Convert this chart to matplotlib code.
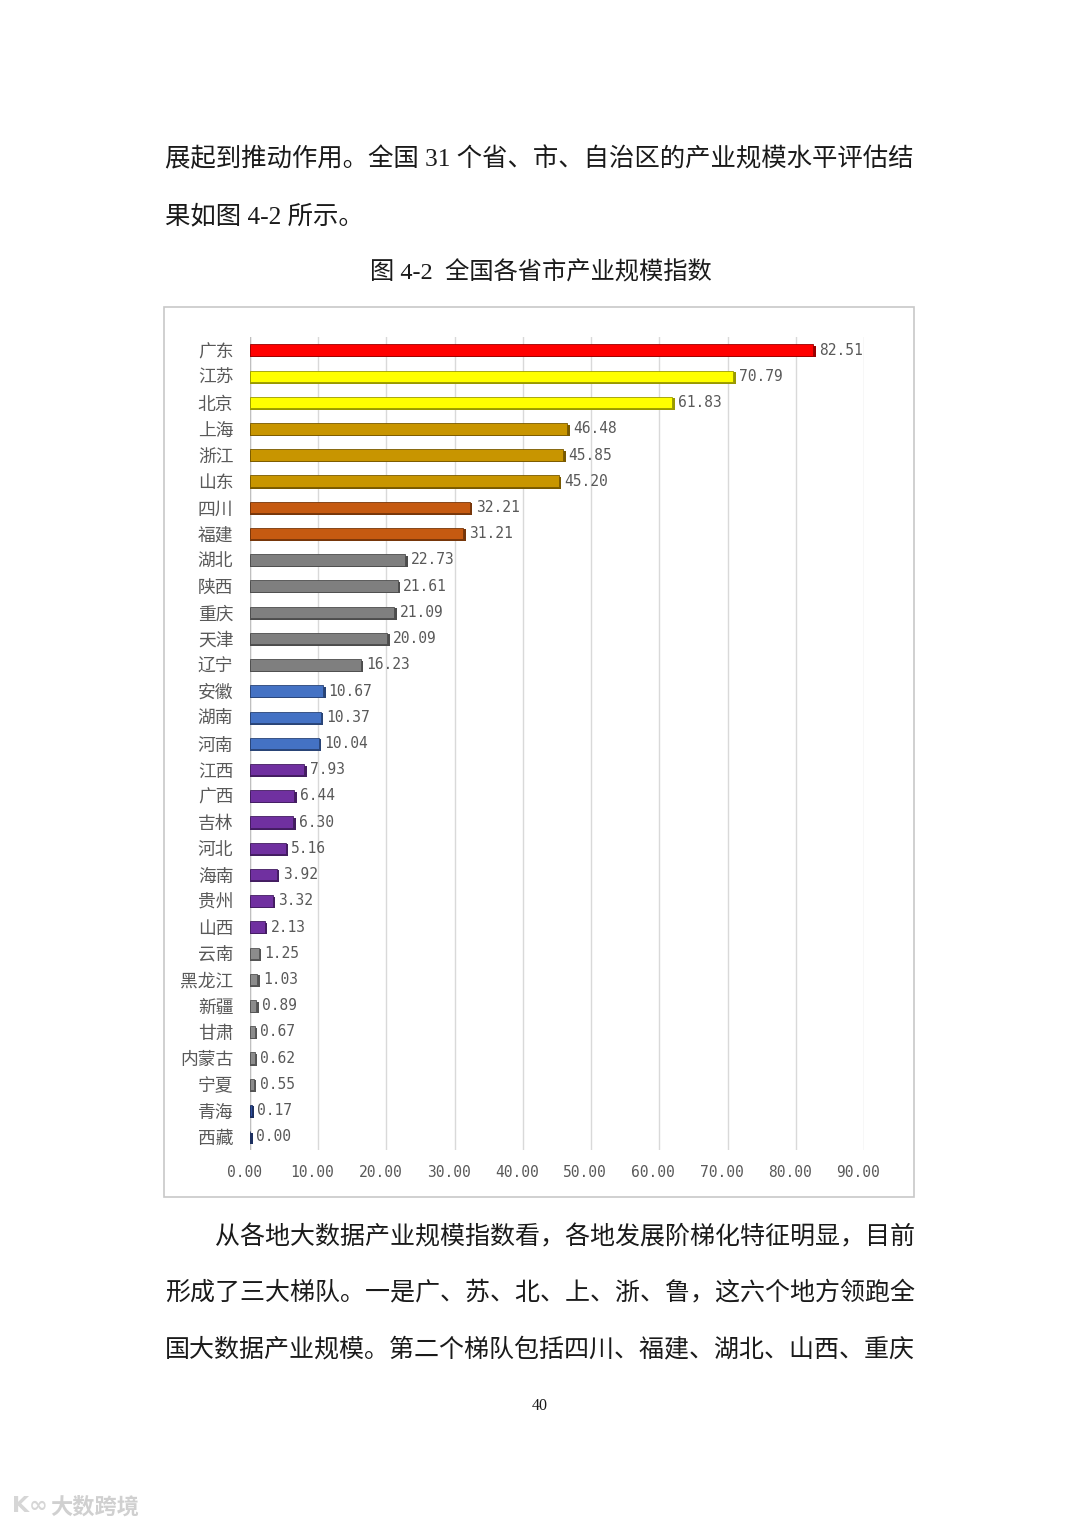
import matplotlib
matplotlib.use("Agg")
import matplotlib.pyplot as plt
import matplotlib.transforms as mtransforms
from matplotlib.patches import Rectangle
from matplotlib.colors import to_rgb

plt.rcParams['font.family'] = ['Noto Sans CJK SC', 'DejaVu Sans']

provinces = ["广东", "江苏", "北京", "上海", "浙江", "山东", "四川", "福建",
             "湖北", "陕西", "重庆", "天津", "辽宁", "安徽", "湖南", "河南",
             "江西", "广西", "吉林", "河北", "海南", "贵州", "山西", "云南",
             "黑龙江", "新疆", "甘肃", "内蒙古", "宁夏", "青海", "西藏"]
values = [82.51, 70.79, 61.83, 46.48, 45.85, 45.20, 32.21, 31.21,
          22.73, 21.61, 21.09, 20.09, 16.23, 10.67, 10.37, 10.04,
          7.93, 6.44, 6.30, 5.16, 3.92, 3.32, 2.13, 1.25,
          1.03, 0.89, 0.67, 0.62, 0.55, 0.17, 0.00]
value_labels = ["82.51", "70.79", "61.83", "46.48", "45.85", "45.20", "32.21", "31.21",
                "22.73", "21.61", "21.09", "20.09", "16.23", "10.67", "10.37", "10.04",
                "7.93", "6.44", "6.30", "5.16", "3.92", "3.32", "2.13", "1.25",
                "1.03", "0.89", "0.67", "0.62", "0.55", "0.17", "0.00"]
tiers = ["red", "yellow", "yellow", "gold", "gold", "gold", "orange", "orange",
         "gray", "gray", "gray", "gray", "gray", "blue", "blue", "blue",
         "purple", "purple", "purple", "purple", "purple", "purple", "purple", "lgray",
         "lgray", "lgray", "lgray", "lgray", "lgray", "navy", "navy"]
tier_colors = {"red": "#FF0000", "yellow": "#FFFF00", "gold": "#C89500",
               "orange": "#C55A11", "gray": "#7F7F7F", "blue": "#4472C4",
               "purple": "#7030A0", "lgray": "#8C8C8C", "navy": "#2F4F9F"}
xticks = [0, 10, 20, 30, 40, 50, 60, 70, 80, 90]
xtick_labels = ["0.00", "10.00", "20.00", "30.00", "40.00", "50.00",
                "60.00", "70.00", "80.00", "90.00"]

W, H = 1080, 1527
fig = plt.figure(figsize=(W / 100, H / 100), dpi=100)
fig.patch.set_facecolor("white")

def fx(px):
    return px / W

def fy(py):
    return 1 - py / H

body = ['Liberation Serif', 'Noto Sans CJK SC']
txt_col = "#1a1a1a"
fig.text(fx(165), fy(159), "展起到推动作用。全国 31 个省、市、自治区的产业规模水平评估结",
         family=body, fontsize=18.3, color=txt_col, va="center", ha="left")
fig.text(fx(165), fy(216), "果如图 4-2 所示。", family=body, fontsize=18.3,
         color=txt_col, va="center", ha="left")
fig.text(fx(541), fy(273), "图 4-2  全国各省市产业规模指数", family=body, fontsize=17.5,
         color=txt_col, va="center", ha="center")
fig.text(fx(215), fy(1237), "从各地大数据产业规模指数看，各地发展阶梯化特征明显，目前",
         family=body, fontsize=18.0, color=txt_col, va="center", ha="left")
fig.text(fx(165), fy(1293), "形成了三大梯队。一是广、苏、北、上、浙、鲁，这六个地方领跑全",
         family=body, fontsize=18.0, color=txt_col, va="center", ha="left")
fig.text(fx(165), fy(1349), "国大数据产业规模。第二个梯队包括四川、福建、湖北、山西、重庆",
         family=body, fontsize=18.0, color=txt_col, va="center", ha="left")
fig.text(fx(540), fy(1406), "40", family=['Liberation Serif'], fontsize=11.5,
         color=txt_col, va="center", ha="center")
fig.text(fx(12), fy(1506), "K∞", family=['DejaVu Sans'], fontsize=16, color="#d6d6d6",
         va="center", ha="left", fontweight="bold")
fig.text(fx(50), fy(1507), "大数跨境", fontsize=16, color="#d0d0d0",
         va="center", ha="left", fontweight="bold")

# chart frame
fig.patches.append(Rectangle((fx(164), fy(1197)), fx(914) - fx(164), fy(307) - fy(1197),
                             transform=fig.transFigure, facecolor="none",
                             edgecolor="#c8c8c8", linewidth=1.2, zorder=-1))

ax_left, ax_right = 250, 864
ax_top, ax_bot = 337, 1150
ax = fig.add_axes([fx(ax_left), fy(ax_bot), fx(ax_right) - fx(ax_left), fy(ax_top) - fy(ax_bot)])
ax.set_facecolor("none")
ax.set_zorder(2)
n = len(provinces)
ypos = list(range(n))

ax.set_xlim(0, 90)
ax.set_ylim(n - 0.5, -0.5)

for xt in xticks:
    ax.axvline(xt, color="#d9d9d9", linewidth=1.0, zorder=0)
ax.axvline(0, color="#bfbfbf", linewidth=1.0, zorder=0)

def darker(c, f=0.6):
    r, g, b = to_rgb(c)
    return (r * f, g * f, b * f)

cols = [tier_colors[t] for t in tiers]
dark = [darker(c) for c in cols]
# shadow / 3D side
ax.barh([y + 0.06 for y in ypos], [v + 0.35 for v in values], left=0.05, height=0.44,
        color=dark, zorder=2)
ax.barh(ypos, values, left=0.05, height=0.44, color=cols, edgecolor=dark,
        linewidth=0.6, zorder=3)

for y, v, lab in zip(ypos, values, value_labels):
    ax.annotate(lab, (v + 0.35, y), xytext=(2.5, 0), textcoords="offset points",
                va="center", ha="left", fontsize=10.5, color="#595959",
                family=['DejaVu Sans Mono'])

ax.set_yticks(ypos)
ax.set_yticklabels(provinces, fontsize=12.8, color="#595959")
ax.set_xticks(xticks)
ax.set_xticklabels(xtick_labels, fontsize=10.5, color="#595959", family=['DejaVu Sans Mono'])
ax.tick_params(axis="both", length=0)
ax.tick_params(axis="y", pad=12)
ax.tick_params(axis="x", pad=11)
off = mtransforms.ScaledTranslation(-6 / 100, 0, fig.dpi_scale_trans)
for lbl in ax.get_xticklabels():
    lbl.set_transform(lbl.get_transform() + off)
for s in ax.spines.values():
    s.set_visible(False)

fig.savefig("out.png", dpi=100, facecolor="white")
